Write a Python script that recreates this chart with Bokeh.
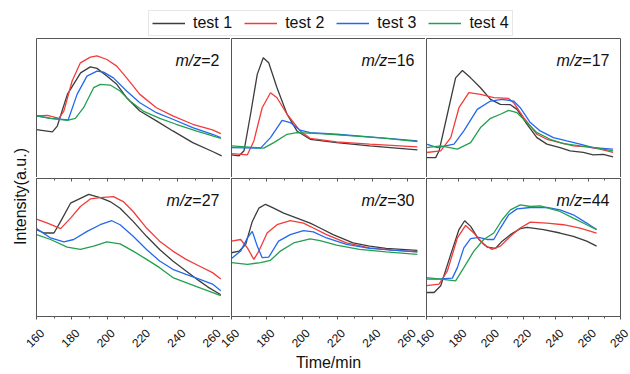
import math
from bokeh.plotting import figure
from bokeh.layouts import row, column
from bokeh.models import (Range1d, LinearAxis, SingleIntervalTicker, FixedTicker,
                          Label, LabelSet, Legend, LegendItem, ColumnDataSource)
from bokeh.core.properties import value
from bokeh.embed import file_html
from bokeh.resources import INLINE

# ---------------- data ----------------
series_names = ["test 1", "test 2", "test 3", "test 4"]
series_colors = ["#3c3c3c", "#f23c3c", "#2468f0", "#22a050"]
panel_labels = ["2", "16", "17", "27", "30", "44"]
tick_values_narrow = [160, 180, 200, 220, 240, 260]
tick_values_wide = [160, 180, 200, 220, 240, 260, 280]
x_start = 160
x_end_narrow = 270
x_end_wide = 280

# m/z = 2
mz2_t1_time = [160, 169, 171.8, 177.5, 185, 190.5, 194.3, 199.9, 205.5, 211.1, 218.6, 228, 237.3, 248.6, 259.8, 265]
mz2_t1_val = [34.4, 32.8, 37, 59.8, 75.3, 79.6, 78.5, 73, 67, 57.4, 47.8, 40.7, 33.5, 25.1, 18.7, 15.6]
mz2_t2_time = [160, 166.2, 172.7, 175.5, 180.2, 184.9, 190.5, 194.3, 199.9, 205.5, 211.1, 218.6, 228, 237.3, 248.6, 259.8, 264.5]
mz2_t2_val = [44.3, 44.7, 42.6, 47.8, 69.4, 82.5, 86.6, 87.5, 84.9, 80.1, 71.7, 59.8, 50.2, 44.3, 38.3, 34.2, 31.6]
mz2_t3_time = [160, 168, 178, 183, 188.6, 194.3, 198, 203.6, 211.1, 218.6, 228, 237.3, 248.6, 259.8, 264.5]
mz2_t3_val = [44.3, 42.6, 41.5, 59.8, 72.9, 76.5, 75.8, 71.7, 62.2, 53.8, 46.6, 41.9, 35.9, 31.1, 28.7]
mz2_t4_time = [160, 168, 177.5, 182, 186.7, 192.4, 196.2, 201.8, 207.4, 213, 220.5, 229.9, 239.2, 250.5, 264.5]
mz2_t4_val = [44.3, 42.6, 41.1, 42.6, 50.2, 64.6, 67, 66.5, 62.2, 55, 47.8, 42.6, 38.3, 33.5, 28.2]

# m/z = 16
mz16_t1_time = [160, 164.3, 167.1, 170.8, 174.6, 178, 181.1, 185.8, 191.5, 197.1, 204.6, 219.6, 238.3, 265.4]
mz16_t1_val = [16.3, 15.6, 19.2, 45.5, 74.2, 86.1, 82.5, 64.6, 45.5, 33.5, 27.5, 25.1, 22.7, 19.9]
mz16_t2_time = [160, 169, 172.7, 177.4, 182.1, 185.8, 191.5, 198.9, 204.6, 219.6, 238.3, 265.4]
mz16_t2_val = [17.2, 16.3, 26.3, 50.2, 61, 57.4, 45.5, 33.5, 28.2, 25.6, 24, 22]
mz16_t3_time = [160, 176.5, 182.1, 188.7, 193.3, 198.9, 204.6, 219.6, 238.3, 265.4]
mz16_t3_val = [21.5, 21.1, 28.7, 41.1, 39.5, 34, 32.3, 31.1, 29.2, 26.3]
mz16_t4_time = [160, 178.3, 184, 191.5, 197.1, 210.2, 228.9, 247.6, 265.4]
mz16_t4_val = [22.7, 21.1, 25.1, 31.1, 32.3, 31.6, 29.9, 28.2, 25.8]

# m/z = 17
mz17_t1_time = [160, 165.7, 167.8, 172.9, 178, 182.2, 187.3, 193.4, 199.6, 205.7, 211.9, 216, 222.2, 228.3, 234.5, 242.6, 248.8, 257, 263.1, 269.3, 275.4]
mz17_t1_val = [14.3, 14.3, 19.2, 45.5, 71.7, 77, 71.7, 64.6, 56.2, 52.6, 52.4, 49, 38.3, 28.7, 24, 21.5, 19.2, 18, 16.3, 16.7, 14.8]
mz17_t2_time = [160, 168.8, 175, 180.1, 186.2, 193.4, 201.6, 210.8, 213.9, 220.1, 228.3, 234.5, 242.6, 250.8, 259.1, 267.3, 275.4]
mz17_t2_val = [18, 19.2, 28.7, 50.2, 61, 59.8, 57.4, 56.9, 53.8, 43.1, 31.1, 27.5, 25.1, 22.7, 22, 20.4, 18]
mz17_t3_time = [160, 166.8, 177, 183.1, 191.4, 199.6, 206.8, 213.9, 218, 224.2, 230.3, 238.5, 246.8, 255, 263.1, 275.4]
mz17_t3_val = [24, 21.5, 24, 33.5, 49, 55, 56.2, 55, 50.2, 39.5, 33.5, 28.7, 26.3, 24, 21.5, 20.4]
mz17_t4_time = [160, 168.8, 179.1, 187.3, 193.4, 199.6, 205.7, 210.8, 216, 222.2, 228.3, 236.5, 244.7, 255, 264.1, 275.4]
mz17_t4_val = [21.5, 22.7, 20.4, 25.1, 35.9, 42.6, 45.5, 48.3, 46.6, 39.5, 32.3, 27.5, 24.4, 22.7, 21.5, 19.2]

# m/z = 27
mz27_t1_time = [160, 164.3, 169.9, 173.7, 179.3, 184.9, 189.6, 196.1, 201.7, 207.4, 214.8, 222.4, 229.8, 237.3, 244.8, 252.3, 257, 264.5]
mz27_t1_val = [63, 60.5, 60.5, 68.9, 82.1, 85.6, 88.5, 86.1, 83.3, 78.5, 68.9, 58.1, 48.6, 40.2, 33, 25.8, 21.5, 15.8]
mz27_t2_time = [160, 166.2, 173.7, 179.3, 184.9, 190.5, 196.1, 203.6, 209.2, 214.8, 222.4, 229.8, 237.3, 244.8, 252.3, 259.8, 264.5]
mz27_t2_val = [70.6, 67.7, 63.7, 71.3, 79.7, 85.2, 86.1, 86.9, 83.3, 76.1, 64.1, 54.6, 47.4, 41.4, 36.6, 31.8, 27.1]
mz27_t3_time = [160, 168, 175.5, 181.1, 188.7, 196.1, 202.7, 207.4, 214.8, 222.4, 229.8, 237.3, 244.8, 252.3, 259.8, 264.5]
mz27_t3_val = [63.7, 56.9, 54.1, 55.8, 61.7, 66.5, 69.4, 66.5, 58.1, 48.6, 40.2, 34.2, 30.6, 27.1, 23.5, 18.7]
mz27_t4_time = [160, 168, 177.4, 184.9, 192.4, 199.9, 207.4, 214.8, 222.4, 229.8, 237.3, 244.8, 252.3, 264.5]
mz27_t4_val = [59.3, 55.8, 50.3, 48.6, 51, 54.1, 52.6, 47.4, 41.4, 35.4, 28.2, 24.6, 21, 15.1]

# m/z = 30
mz30_t1_time = [160, 164.3, 168, 171.8, 175.5, 179.3, 183.9, 189.6, 197.1, 204.6, 210.2, 217.6, 228.9, 238.3, 247.6, 265.4]
mz30_t1_val = [46.2, 47.4, 52.2, 68.9, 78.5, 81.3, 78.5, 74.9, 71.3, 67.7, 64.1, 59.3, 53.3, 51, 49.3, 47.9]
mz30_t2_time = [160, 165.2, 169, 172.7, 175.5, 180.2, 185.8, 193.3, 200.8, 206.4, 213.9, 225.2, 238.3, 251.3, 265.4]
mz30_t2_val = [54.6, 55.8, 49.7, 41.4, 47.4, 60.5, 66.5, 69.4, 67.7, 64.1, 59.3, 53.3, 49.7, 48.1, 46.9]
mz30_t3_time = [160, 165.2, 169, 171.8, 174.6, 177.4, 181.1, 186.7, 193.3, 200.8, 206.4, 213.9, 225.2, 238.3, 251.3, 265.4]
mz30_t3_val = [42.1, 47.4, 56.9, 61.7, 51, 42.6, 43, 54.6, 59.3, 62.2, 61.3, 56.9, 52.2, 49.3, 48.1, 46.9]
mz30_t4_time = [160, 169, 176.5, 182.1, 187.7, 195.2, 204.6, 210.2, 219.6, 232.6, 247.6, 265.4]
mz30_t4_val = [39, 37.8, 39, 40.7, 47.4, 53.3, 56.2, 55, 51.7, 48.6, 46.9, 45]

# m/z = 44
mz44_t1_time = [160, 164.7, 168.8, 175, 180.1, 183.6, 187.3, 192.4, 197.5, 202.6, 206.8, 211.9, 218, 222.2, 232.4, 242.6, 250.8, 259.1, 265.2]
mz44_t1_val = [17.4, 17.4, 22.3, 45, 63, 69.4, 65.3, 55.8, 50.3, 49.3, 54.6, 59.3, 63.7, 64.6, 63, 60.5, 58.1, 54.6, 51]
mz44_t2_time = [160, 167.8, 172.9, 179.1, 184.2, 189.3, 195.4, 200.6, 205.7, 211.9, 218, 224.2, 234.5, 244.7, 255, 265.2]
mz44_t2_val = [22.3, 23.5, 33, 56.9, 66, 60.5, 52.2, 48.6, 51, 58.1, 64.1, 68.4, 67.7, 66.5, 64.1, 60.5]
mz44_t3_time = [160, 166.8, 176, 179.1, 183.1, 187.3, 192.4, 197.5, 201.6, 205.7, 210.8, 216, 224.2, 234.5, 242.6, 250.8, 259.1, 265.2]
mz44_t3_val = [27.1, 27.1, 27.8, 35.4, 49.7, 56.5, 57.4, 55.8, 55.8, 64.1, 73.7, 78, 79, 79, 77.3, 73.7, 67.7, 63]
mz44_t4_time = [160, 168.8, 178, 183.1, 189.3, 195.4, 201.6, 206.8, 211.9, 218, 224.2, 230.3, 242.6, 250.8, 259.1, 265.2]
mz44_t4_val = [28.2, 27.1, 25.8, 35.4, 47.4, 55.8, 60.5, 70.1, 77.3, 80.9, 79.7, 80.1, 76.1, 71.3, 66.5, 63]

panel_series = [
    [(mz2_t1_time, mz2_t1_val), (mz2_t2_time, mz2_t2_val), (mz2_t3_time, mz2_t3_val), (mz2_t4_time, mz2_t4_val)],
    [(mz16_t1_time, mz16_t1_val), (mz16_t2_time, mz16_t2_val), (mz16_t3_time, mz16_t3_val), (mz16_t4_time, mz16_t4_val)],
    [(mz17_t1_time, mz17_t1_val), (mz17_t2_time, mz17_t2_val), (mz17_t3_time, mz17_t3_val), (mz17_t4_time, mz17_t4_val)],
    [(mz27_t1_time, mz27_t1_val), (mz27_t2_time, mz27_t2_val), (mz27_t3_time, mz27_t3_val), (mz27_t4_time, mz27_t4_val)],
    [(mz30_t1_time, mz30_t1_val), (mz30_t2_time, mz30_t2_val), (mz30_t3_time, mz30_t3_val), (mz30_t4_time, mz30_t4_val)],
    [(mz44_t1_time, mz44_t1_val), (mz44_t2_time, mz44_t2_val), (mz44_t3_time, mz44_t3_val), (mz44_t4_time, mz44_t4_val)],
]

# ---------------- style / layout ----------------
FONT = "Liberation Sans"
FRAME = "#555555"
TEXT = "#111111"
LINE_W = 1.3
PAGE_W = 630
LEGEND_H = 37
YLABEL_W = 35
FRAME_W = 194
TOP_FRAME_H = 139
BOT_FRAME_H = 138
BOT_BORDER = 5
STRIP_H = 53

CHAR_W = {"=": 0.584}


def text_width(s, size):
    return sum(CHAR_W.get(ch, 0.556) for ch in s) * size


def fixed_fig(w, h):
    f = figure(width=w, height=h, x_range=Range1d(0, 1), y_range=Range1d(0, 1),
               x_axis_location=None, y_axis_location=None, min_border=0,
               outline_line_color=None, toolbar_location=None, output_backend="svg")
    f.xgrid.visible = False
    f.ygrid.visible = False
    return f


def line_only_axis(p, loc):
    ax = LinearAxis(ticker=FixedTicker(ticks=[]), axis_line_color=FRAME, axis_line_width=1,
                    major_tick_in=0, major_tick_out=0, minor_tick_in=0, minor_tick_out=0,
                    major_label_standoff=0, major_label_text_font_size="1px",
                    major_label_text_color=None)
    p.add_layout(ax, loc)


def tick_axis(p, loc, tick_in, tick_out):
    ax = LinearAxis(ticker=SingleIntervalTicker(interval=20, num_minor_ticks=2),
                    axis_line_color=FRAME, major_tick_line_color=FRAME,
                    minor_tick_line_color=FRAME,
                    major_tick_in=tick_in, major_tick_out=tick_out,
                    minor_tick_in=(2 if tick_in else 0), minor_tick_out=(2 if tick_out else 0),
                    major_label_standoff=0, major_label_text_font_size="1px",
                    major_label_text_color=None)
    p.add_layout(ax, loc)


def make_panel(idx):
    r, c = divmod(idx, 3)
    bottom = r == 1
    xend = x_end_wide if c == 2 else x_end_narrow
    fh = BOT_FRAME_H if bottom else TOP_FRAME_H
    p = figure(width=FRAME_W + 1 + (1 if c == 2 else 0),
               height=fh + 1 + (BOT_BORDER if bottom else 0),
               x_range=Range1d(x_start, xend), y_range=Range1d(0, 100),
               x_axis_location=None, y_axis_location=None,
               output_backend="svg", toolbar_location=None,
               min_border_left=1, min_border_right=(1 if c == 2 else 0),
               min_border_top=1, min_border_bottom=(BOT_BORDER if bottom else 0),
               outline_line_color=None)
    p.xgrid.visible = False
    p.ygrid.visible = False

    for (tt, vv), col in zip(panel_series[idx], series_colors):
        p.line(x=tt, y=vv, line_color=col, line_width=LINE_W)

    line_only_axis(p, "left")
    if c == 2:
        line_only_axis(p, "right")
    if not bottom:
        line_only_axis(p, "above")
    else:
        tick_axis(p, "above", 3, 0)
        tick_axis(p, "below", 0, 3)

    tail = "=" + panel_labels[idx]
    p.add_layout(Label(x=xend, y=100, x_offset=-11, y_offset=-22, text=tail,
                       text_align="right", text_baseline="alphabetic",
                       text_font=FONT, text_font_size="16px", text_color=TEXT))
    p.add_layout(Label(x=xend, y=100, x_offset=-11 - text_width(tail, 16), y_offset=-22,
                       text="m/z", text_align="right", text_baseline="alphabetic",
                       text_font=FONT, text_font_size="16px", text_font_style="italic",
                       text_color=TEXT))
    return p


panels = [make_panel(i) for i in range(6)]

# tick-label strip under the grid (one x range per column, matching each column's scale)
strip = fixed_fig(PAGE_W, STRIP_H)
ranges = {}
for c in range(3):
    xend = x_end_wide if c == 2 else x_end_narrow
    ppm = FRAME_W / (xend - x_start)
    off = YLABEL_W + 1 + (FRAME_W + 1) * c
    start = x_start - off / ppm
    ranges["c%d" % c] = Range1d(start, start + PAGE_W / ppm)
strip.extra_x_ranges = ranges
for c in range(3):
    ticks = tick_values_wide if c == 2 else tick_values_narrow
    src = ColumnDataSource(dict(x=ticks, text=[str(t) for t in ticks]))
    strip.add_layout(LabelSet(x="x", y=STRIP_H - 16.5, y_units="screen", text="text",
                              source=src, x_range_name="c%d" % c, angle=math.pi / 4,
                              x_offset=-1.5,
                              text_align="center", text_baseline="middle",
                              text_font=value(FONT), text_font_size=value("12px"),
                              text_color=TEXT))
strip.add_layout(Label(x=YLABEL_W + 1 + (3 * FRAME_W + 2) / 2, y=12,
                       x_units="screen", y_units="screen",
                       text="Time/min", text_align="center", text_baseline="middle",
                       text_font=FONT, text_font_size="16px", text_color=TEXT))

# y label strip
rows_h = (TOP_FRAME_H + 1) + (BOT_FRAME_H + 1 + BOT_BORDER)
yl = fixed_fig(YLABEL_W, rows_h)
yl.add_layout(Label(x=20, y=rows_h - 159, x_units="screen", y_units="screen",
                    text="Intensity(a.u.)", angle=math.pi / 2,
                    text_align="center", text_baseline="middle",
                    text_font=FONT, text_font_size="16px", text_color=TEXT))

# legend strip
lg = fixed_fig(PAGE_W, LEGEND_H)
lg.x_range = Range1d(x_start, x_end_narrow)
lg.y_range = Range1d(1000, 1001)
legend_renderers = [lg.line(x=tt, y=vv, line_color=col, line_width=LINE_W)
                    for (tt, vv), col in zip(panel_series[0], series_colors)]
legend = Legend(items=[LegendItem(label=n, renderers=[rr])
                       for n, rr in zip(series_names, legend_renderers)],
                orientation="horizontal", location=(148, 1),
                border_line_color="#d0d0d0", border_line_width=1,
                label_text_font=FONT, label_text_font_size="16px", label_text_color=TEXT,
                glyph_width=33, glyph_height=16, label_height=16, label_standoff=8,
                spacing=12, padding=3, margin=0)
lg.add_layout(legend)

grid = column(row(panels[0], panels[1], panels[2]),
              row(panels[3], panels[4], panels[5]))
layout = column(lg, row(yl, grid), strip)

open("out.html", "w").write(file_html(layout, INLINE))
